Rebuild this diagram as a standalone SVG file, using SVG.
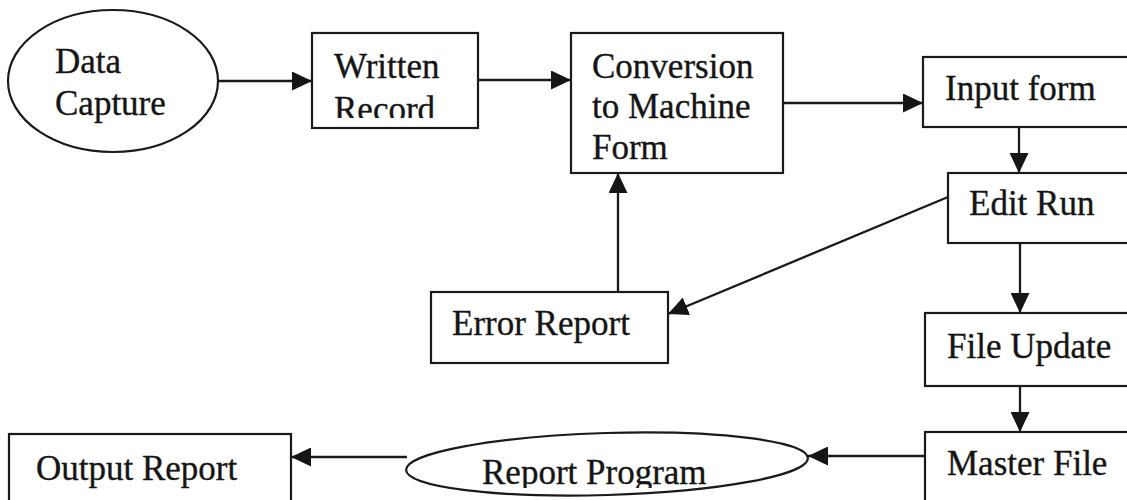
<svg xmlns="http://www.w3.org/2000/svg" width="1127" height="500" viewBox="0 0 1127 500">
<style>
.box{fill:#fff;stroke:#1a1a1a;stroke-width:2.2}
.lbl{font-family:"Liberation Serif","Times New Roman",serif;font-size:35px;fill:#151515;stroke:#151515;stroke-width:0.35}
.conn{fill:none;stroke:#1a1a1a;stroke-width:2.3}
</style>
<defs>
<marker id="ah" viewBox="0 0 20 19" refX="20" refY="9.5" markerWidth="20" markerHeight="19" markerUnits="userSpaceOnUse" orient="auto">
<path d="M0,0 L20,9.5 L0,19 z" fill="#151515"/>
</marker>
<clipPath id="clipRec"><rect x="312" y="33" width="166" height="85"/></clipPath>
<clipPath id="clipRP"><rect x="400" y="420" width="420" height="68"/></clipPath>
</defs>
<rect width="1127" height="500" fill="#fff"/>
<g id="connectors">
<line class="conn" x1="219" y1="81" x2="312" y2="81" marker-end="url(#ah)"/>
<line class="conn" x1="478" y1="80" x2="571" y2="80" marker-end="url(#ah)"/>
<line class="conn" x1="783" y1="103" x2="923" y2="103" marker-end="url(#ah)"/>
<line class="conn" x1="1019" y1="127" x2="1019" y2="173" marker-end="url(#ah)"/>
<line class="conn" x1="948" y1="197" x2="668" y2="314" marker-end="url(#ah)"/>
<line class="conn" x1="618" y1="292" x2="618" y2="173" marker-end="url(#ah)"/>
<line class="conn" x1="1020" y1="243" x2="1020" y2="313" marker-end="url(#ah)"/>
<line class="conn" x1="1020" y1="386" x2="1020" y2="432" marker-end="url(#ah)"/>
<line class="conn" x1="925" y1="456" x2="808" y2="456" marker-end="url(#ah)"/>
<line class="conn" x1="407" y1="457" x2="291" y2="457" marker-end="url(#ah)"/>
</g>
<g id="data-capture">
<ellipse class="box" cx="113" cy="81" rx="105" ry="71"/>
<text class="lbl" x="55" y="73">Data</text>
<text class="lbl" x="55" y="115">Capture</text>
</g>
<g id="written-record">
<rect class="box" x="312" y="33" width="166" height="95"/>
<text class="lbl" x="334" y="78">Written</text>
<text class="lbl" x="334" y="121" clip-path="url(#clipRec)">Record</text>
</g>
<g id="conversion">
<rect class="box" x="571" y="33" width="212" height="140"/>
<text class="lbl" x="592" y="78">Conversion</text>
<text class="lbl" x="592" y="118">to Machine</text>
<text class="lbl" x="592" y="159">Form</text>
</g>
<g id="input-form">
<rect class="box" x="923" y="57" width="220" height="70"/>
<text class="lbl" x="945" y="100">Input form</text>
</g>
<g id="edit-run">
<rect class="box" x="948" y="173" width="200" height="70"/>
<text class="lbl" x="969" y="215">Edit Run</text>
</g>
<g id="error-report">
<rect class="box" x="431" y="292" width="237" height="71"/>
<text class="lbl" x="452" y="335">Error Report</text>
</g>
<g id="file-update">
<rect class="box" x="925" y="313" width="220" height="73"/>
<text class="lbl" x="947" y="358">File Update</text>
</g>
<g id="master-file">
<rect class="box" x="925" y="432" width="220" height="90"/>
<text class="lbl" x="947" y="475">Master File</text>
</g>
<g id="report-program">
<ellipse class="box" cx="607" cy="464" rx="201" ry="31" transform="rotate(-1.7 607 464)"/>
<text class="lbl" x="482" y="484" clip-path="url(#clipRP)">Report Program</text>
</g>
<g id="output-report">
<rect class="box" x="9" y="434" width="282" height="90"/>
<text class="lbl" x="36" y="480">Output Report</text>
</g>
</svg>
